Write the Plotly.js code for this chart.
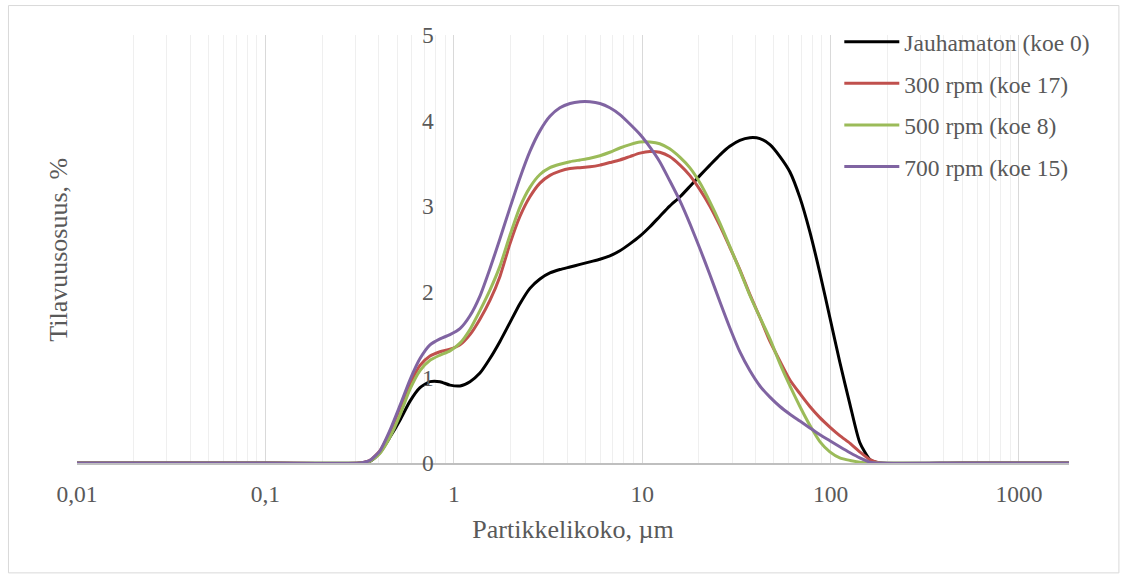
<!DOCTYPE html>
<html><head><meta charset="utf-8">
<script src="https://cdn.plot.ly/plotly-3.0.1.min.js"></script>
<style>html,body{margin:0;padding:0;background:#fff}#chart{width:1121px;height:574px}</style>
</head><body><div id="chart"></div>
<script>
// Particle size (µm)
const sizes = [0.01, 0.1, 0.318, 0.359, 0.405, 0.458, 0.518, 0.585, 0.662, 0.748, 0.845, 0.955, 1.079, 1.219, 1.377, 1.556, 1.759, 1.987, 2.245, 2.537, 2.867, 3.24, 3.66, 4.14, 4.68, 5.28, 5.97, 6.74, 7.62, 8.61, 9.73, 11.0, 12.4, 14.0, 15.9, 17.9, 20.3, 22.9, 25.9, 29.2, 33.0, 37.3, 42.2, 47.7, 53.9, 60.9, 68.8, 77.7, 87.8, 99.2, 112, 127, 143, 162, 183, 500, 1845];

const seriesNames = ["Jauhamaton (koe 0)", "300 rpm (koe 17)", "500 rpm (koe 8)", "700 rpm (koe 15)"];

const jauhamaton = [0, 0, 0, 0.02, 0.12, 0.30, 0.50, 0.72, 0.88, 0.95, 0.95, 0.91, 0.90, 0.95, 1.05, 1.22, 1.42, 1.64, 1.86, 2.04, 2.15, 2.22, 2.26, 2.29, 2.32, 2.35, 2.38, 2.42, 2.48, 2.56, 2.65, 2.76, 2.88, 3.00, 3.11, 3.23, 3.36, 3.48, 3.60, 3.70, 3.77, 3.80, 3.79, 3.72, 3.58, 3.40, 3.10, 2.70, 2.22, 1.70, 1.18, 0.68, 0.24, 0.04, 0, 0, 0];

const rpm300 = [0, 0, 0, 0.03, 0.14, 0.36, 0.64, 0.92, 1.14, 1.25, 1.30, 1.33, 1.38, 1.50, 1.68, 1.90, 2.18, 2.56, 2.88, 3.11, 3.27, 3.36, 3.41, 3.44, 3.45, 3.46, 3.48, 3.51, 3.54, 3.58, 3.62, 3.64, 3.63, 3.58, 3.48, 3.36, 3.19, 3.00, 2.77, 2.52, 2.26, 1.97, 1.70, 1.42, 1.19, 0.97, 0.81, 0.66, 0.53, 0.42, 0.32, 0.23, 0.13, 0.04, 0, 0, 0];

const rpm500 = [0, 0, 0, 0.02, 0.11, 0.30, 0.56, 0.86, 1.08, 1.20, 1.26, 1.31, 1.40, 1.56, 1.78, 2.02, 2.30, 2.66, 2.99, 3.22, 3.37, 3.45, 3.49, 3.52, 3.54, 3.56, 3.59, 3.63, 3.68, 3.72, 3.75, 3.75, 3.73, 3.67, 3.57, 3.45, 3.27, 3.05, 2.80, 2.53, 2.25, 1.96, 1.70, 1.45, 1.16, 0.90, 0.66, 0.44, 0.25, 0.13, 0.06, 0.03, 0.01, 0, 0, 0, 0];

const rpm700 = [0, 0, 0, 0.03, 0.14, 0.38, 0.67, 0.97, 1.22, 1.38, 1.45, 1.50, 1.57, 1.72, 1.95, 2.27, 2.62, 2.98, 3.33, 3.64, 3.88, 4.05, 4.15, 4.20, 4.22, 4.22, 4.20, 4.15, 4.07, 3.96, 3.84, 3.69, 3.52, 3.30, 3.06, 2.80, 2.50, 2.20, 1.88, 1.58, 1.30, 1.08, 0.90, 0.77, 0.66, 0.57, 0.49, 0.41, 0.33, 0.26, 0.19, 0.12, 0.06, 0.01, 0, 0, 0];

const xTickVals = [0.01, 0.1, 1, 10, 100, 1000];
const xTickText = ["0,01", "0,1", "1", "10", "100", "1000"];
const yTickVals = [0, 1, 2, 3, 4, 5];
const xMin = 0.01, xMax = 1845;

const colors = ["#000000", "#c0504d", "#9bbb59", "#8064a2"];
const seriesValues = [jauhamaton, rpm300, rpm500, rpm700];

const traces = seriesValues.map((v, i) => ({
  x: sizes, y: v, type: 'scatter', mode: 'lines', name: seriesNames[i],
  legendgroup: 'g' + i,
  line: {color: colors[i], width: 3, shape: 'spline', smoothing: 0.6},
  hoverinfo: 'skip'
}));

// minor gridline positions (2..9 within each decade)
const minorVals = [];
for (let e = -2; e <= 3; e++) for (let k = 2; k <= 9; k++) minorVals.push(k * Math.pow(10, e));

const xr = [Math.log10(xMin), Math.log10(xMax)];
const yAxisPos = (0 - xr[0]) / (xr[1] - xr[0]);

const L = 77, R = 1068.6, T = 35, B = 463.5, W = 1121, H = 574;
const pw = R - L, ph = B - T;
const px2p = p => (p - L) / pw;
const py2p = p => (B - p) / ph;

const FONT = 'Liberation Serif';
const TICK = 23.5, TITLE = 26;

const layout = {
  width: W, height: H,
  margin: {l: L, r: W - R, t: T, b: H - B, pad: 0},
  paper_bgcolor: '#ffffff', plot_bgcolor: '#ffffff',
  font: {family: FONT, size: TICK, color: '#595959'},
  showlegend: true,
  xaxis: {
    type: 'log', range: xr, tickmode: 'array', tickvals: xTickVals, ticktext: xTickText,
    showgrid: true, gridcolor: '#d9d9d9', gridwidth: 1,
    minor: {tickmode: 'array', tickvals: minorVals, showgrid: true, gridcolor: '#efefef', gridwidth: 1, ticks: ''},
    showline: true, linecolor: '#bfbfbf', linewidth: 2,
    ticks: '', ticklabelstandoff: 9, zeroline: false,
    tickfont: {family: FONT, size: TICK, color: '#595959'},
    title: {text: 'Partikkelikoko, µm', font: {family: FONT, size: TITLE, color: '#595959'}, standoff: 14}
  },
  yaxis: {
    range: [0, 5], tickmode: 'array', tickvals: yTickVals,
    showgrid: false, zeroline: false, showline: false, ticks: '',
    anchor: 'free', position: yAxisPos, ticklabelstandoff: 20,
    tickfont: {family: FONT, size: TICK, color: '#595959'}
  },
  legend: {
    x: px2p(839), y: py2p(20), xanchor: 'left', yanchor: 'top',
    bgcolor: 'rgba(0,0,0,0)', borderwidth: 0,
    font: {family: FONT, size: TICK, color: '#595959'}, tracegroupgap: 8, itemwidth: 55
  },
  annotations: [{
    text: 'Tilavuusosuus, %', xref: 'paper', yref: 'paper',
    x: px2p(59), y: py2p(250), xanchor: 'center', yanchor: 'middle',
    textangle: -90, showarrow: false, font: {family: FONT, size: TITLE, color: '#595959'}
  }],
  shapes: [{
    type: 'rect', xref: 'paper', yref: 'paper',
    x0: px2p(8.5), x1: px2p(1118.5), y0: py2p(573.5), y1: py2p(5.5),
    line: {color: '#d9d9d9', width: 1}, fillcolor: 'rgba(0,0,0,0)', layer: 'below'
  }]
};

Plotly.newPlot('chart', traces, layout, {displayModeBar: false, staticPlot: true});
</script>
</body></html>
